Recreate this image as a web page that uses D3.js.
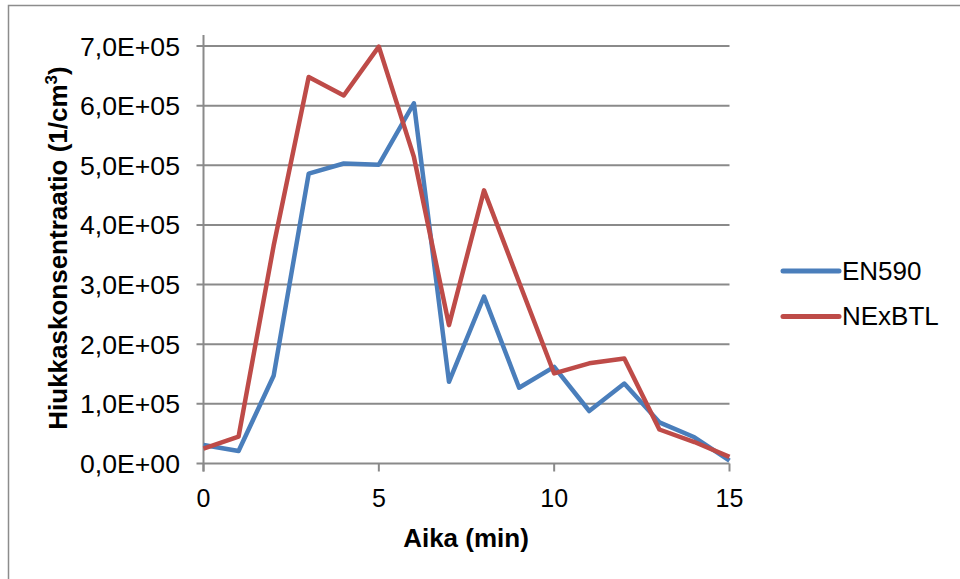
<!DOCTYPE html>
<html>
<head>
<meta charset="utf-8">
<script src="https://cdn.jsdelivr.net/npm/d3@7"></script>
<style>
	body { margin: 0; background: #fff; }
	svg { display: block; font-family: "Liberation Sans", Arial, sans-serif; }
</style>
</head>
<body>
<div id="chart"></div>
<script>
const minutes = [0, 1, 2, 3, 4, 5, 6, 7, 8, 9, 10, 11, 12, 13, 14, 15];
const en590 = [31000, 21000, 147000, 486000, 503000, 501000, 604000, 137000, 280000, 127000, 162000, 88000, 134000, 69000, 44000, 5000];
const nexbtl = [25000, 45000, 365000, 648000, 617000, 699000, 514000, 232000, 458000, 304000, 151000, 168000, 176000, 57000, 36000, 11000];
const seriesNames = ['EN590', 'NExBTL'];
const seriesColors = ['#4a7ebb', '#be4b48'];
const xTicks = [0, 5, 10, 15];
const yTicks = [0, 100000, 200000, 300000, 400000, 500000, 600000, 700000];

const width = 960, height = 579;
const gridColor = '#8a8a8a';

// Excel style "7,0E+05"
function sciComma(v) {
	if (v === 0) return '0,0E+00';
	const exp = Math.floor(Math.log10(Math.abs(v)));
	const mant = (v / Math.pow(10, exp)).toFixed(1).replace('.', ',');
	return `${mant}E+${String(exp).padStart(2, '0')}`;
}

const svg = d3.select('#chart').append('svg')
	.attr('width', width)
	.attr('height', height);

// chart frame (runs past the right and bottom edge)
svg.append('rect')
	.attr('x', 8.5).attr('y', 5.5)
	.attr('width', 1100).attr('height', 800)
	.attr('fill', '#fff')
	.attr('stroke', '#8c8c8c')
	.attr('stroke-width', 1.5);

const x = d3.scaleLinear().domain([0, 15]).range([203.5, 729.5]);
const y = d3.scaleLinear().domain([0, 700000]).range([463.5, 46]);

// gridlines
svg.append('g')
	.selectAll('line')
	.data(yTicks)
	.enter().append('line')
	.attr('x1', x(0) - 7)
	.attr('x2', x(15))
	.attr('y1', d => y(d))
	.attr('y2', d => y(d))
	.attr('stroke', gridColor)
	.attr('stroke-width', 2);

// y axis line
svg.append('line')
	.attr('x1', x(0)).attr('x2', x(0))
	.attr('y1', 35).attr('y2', y(0) + 8)
	.attr('stroke', gridColor)
	.attr('stroke-width', 2);

// x axis ticks
svg.append('g')
	.selectAll('line')
	.data(xTicks)
	.enter().append('line')
	.attr('x1', d => x(d)).attr('x2', d => x(d))
	.attr('y1', y(0)).attr('y2', y(0) + 8)
	.attr('stroke', gridColor)
	.attr('stroke-width', 2);

// y tick labels
svg.append('g')
	.selectAll('text')
	.data(yTicks)
	.enter().append('text')
	.attr('x', 180)
	.attr('y', d => y(d) + 9.5)
	.attr('text-anchor', 'end')
	.attr('font-size', 25)
	.attr('textLength', 100)
	.attr('lengthAdjust', 'spacingAndGlyphs')
	.attr('fill', '#000')
	.text(d => sciComma(d));

// x tick labels
svg.append('g')
	.selectAll('text')
	.data(xTicks)
	.enter().append('text')
	.attr('x', d => x(d))
	.attr('y', 507)
	.attr('text-anchor', 'middle')
	.attr('font-size', 25)
	.attr('fill', '#000')
	.text(d => d);

// axis titles
svg.append('text')
	.attr('x', 466)
	.attr('y', 547)
	.attr('text-anchor', 'middle')
	.attr('font-size', 26)
	.attr('font-weight', 'bold')
	.text('Aika (min)');

const yTitle = svg.append('text')
	.attr('transform', 'translate(67,248) rotate(-90)')
	.attr('text-anchor', 'middle')
	.attr('font-size', 26)
	.attr('font-weight', 'bold');
yTitle.append('tspan').text('Hiukkaskonsentraatio (1/cm');
yTitle.append('tspan').attr('font-size', 17).attr('dy', -10).text('3');
yTitle.append('tspan').attr('dy', 10).text(')');

// lines
const line = d3.line()
	.x((d, i) => x(minutes[i]))
	.y(d => y(d));

[en590, nexbtl].forEach((values, k) => {
	svg.append('path')
		.datum(values)
		.attr('fill', 'none')
		.attr('stroke', seriesColors[k])
		.attr('stroke-width', 4.5)
		.attr('stroke-linejoin', 'round')
		.attr('d', line);
});

// legend
const legend = svg.append('g')
	.selectAll('g')
	.data(seriesNames)
	.enter().append('g')
	.attr('transform', (d, i) => `translate(783,${271 + i * 45.5})`);

legend.append('line')
	.attr('x1', 0).attr('x2', 56)
	.attr('stroke', (d, i) => seriesColors[i])
	.attr('stroke-width', 5)
	.attr('stroke-linecap', 'round');

legend.append('text')
	.attr('x', 59)
	.attr('y', 8.5)
	.attr('font-size', 26)
	.text(d => d);
</script>
</body>
</html>
